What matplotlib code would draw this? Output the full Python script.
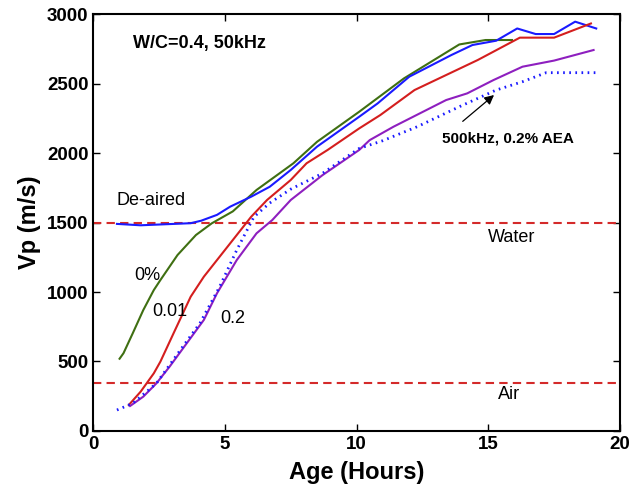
import matplotlib
matplotlib.use("Agg")
import matplotlib.pyplot as plt

# pulse velocity vs age, w/c = 0.4 paste, 50 kHz (plus one 500 kHz run)
t_deaired = [0.9, 1.8, 3.7, 4.1, 4.7, 5.2, 6.0, 6.7, 7.5, 8.5, 10.1, 10.8,
             12.0, 13.6, 14.4, 15.3, 16.1, 16.8, 17.5, 18.3, 19.1]
vp_deaired = [1490, 1480, 1495, 1513, 1555, 1614, 1686, 1757, 1878, 2046,
              2261, 2357, 2549, 2705, 2777, 2808, 2896, 2856, 2856, 2945, 2896]

t_0 = [1.0, 1.15, 1.5, 1.9, 2.3, 2.55, 3.2, 3.9, 4.5, 5.3, 6.2, 7.6, 8.5,
       10.1, 11.8, 13.9, 14.9, 15.9]
vp_0 = [520, 560, 703, 870, 1014, 1086, 1266, 1410, 1494, 1580, 1734, 1926,
        2081, 2297, 2537, 2781, 2813, 2813]

t_001 = [1.35, 1.8, 2.3, 2.55, 3.05, 3.7, 4.2, 4.7, 5.2, 6.0, 6.6, 7.5, 8.1,
         8.9, 10.1, 10.9, 12.2, 14.6, 16.2, 17.5, 18.9]
vp_001 = [187, 283, 415, 499, 703, 966, 1110, 1230, 1350, 1542, 1662, 1806,
          1926, 2022, 2177, 2273, 2453, 2669, 2830, 2830, 2932]

t_02 = [1.4, 1.9, 2.4, 2.9, 3.55, 4.2, 4.7, 5.45, 6.2, 6.8, 7.5, 8.7, 10.1,
        10.5, 11.4, 13.4, 14.2, 15.2, 16.3, 17.5, 19.0]
vp_02 = [180, 247, 343, 463, 631, 799, 991, 1230, 1422, 1518, 1662, 1840,
         2022, 2093, 2189, 2381, 2429, 2525, 2621, 2665, 2741]

t_500 = [0.9, 1.5, 2.4, 3.4, 4.05, 4.8, 5.45, 6.1, 6.7, 7.5, 8.7, 10.1,
         11.0, 12.3, 13.9, 15.3, 16.3, 17.2, 19.2]
vp_500 = [151, 199, 343, 607, 775, 1038, 1302, 1540, 1640, 1740, 1853, 2033,
          2089, 2189, 2333, 2453, 2513, 2578, 2578]

v_water = 1500
v_air = 345

plt.rcParams['font.family'] = "sans-serif"
plt.rcParams['font.sans-serif'] = ["Liberation Sans", "DejaVu Sans"]

fig = plt.figure(figsize=(6.3, 4.92), dpi=100)
ax1 = fig.add_axes([0.148, 0.124, 0.836, 0.8475])

lw = 1.5
ax1.axhline(v_water, color="#d42a2a", ls=(0, (4, 2.5)), lw=lw)
ax1.axhline(v_air, color="#d42a2a", ls=(0, (4, 2.5)), lw=lw)

ax1.plot(t_0, vp_0, color="#3f6f12", lw=lw)
ax1.plot(t_deaired, vp_deaired, color="#1a1aff", lw=lw)
ax1.plot(t_001, vp_001, color="#d41e1e", lw=lw)
ax1.plot(t_02, vp_02, color="#8e1fbf", lw=lw)
ax1.plot(t_500, vp_500, color="#1a1aff", lw=2.0, ls=(0, (0.6, 1.6)))

ax1.text(1.52, 2790, "W/C=0.4, 50kHz", fontsize=13, fontweight="bold",
         va="center")
ax1.text(0.9, 1660, "De-aired", fontsize=13, va="center")
ax1.text(15.9, 1390, "Water", fontsize=13, va="center", ha="center")
ax1.text(15.8, 265, "Air", fontsize=13, va="center", ha="center")
ax1.text(2.05, 1120, "0%", fontsize=13, va="center", ha="center")
ax1.text(2.9, 860, "0.01", fontsize=13, va="center", ha="center")
ax1.text(5.3, 810, "0.2", fontsize=13, va="center", ha="center")
ax1.annotate("", xy=(15.3, 2430), xytext=(13.95, 2215),
             arrowprops=dict(arrowstyle="-|>", color="black", lw=0.9,
                             mutation_scale=14))
ax1.text(13.25, 2105, "500kHz, 0.2% AEA", fontsize=11, fontweight="bold",
         va="center")

ax1.set_xlim(0, 20)
ax1.set_ylim(0, 3000)
ax1.set_xticks([0, 5, 10, 15, 20])
ax1.set_yticks(range(0, 3001, 500))
ax1.tick_params(direction="in", top=True, right=True, length=5, width=1,
                labelsize=13.5)
for lab in ax1.get_xticklabels() + ax1.get_yticklabels():
    lab.set_fontweight("bold")
for sp in ax1.spines.values():
    sp.set_linewidth(1.5)

ax1.set_xlabel("Age (Hours)", fontsize=17, fontweight="bold", labelpad=6)
ax1.set_ylabel("Vp (m/s)", fontsize=17, fontweight="bold", labelpad=4)

fig.savefig("out.png", dpi=100)
